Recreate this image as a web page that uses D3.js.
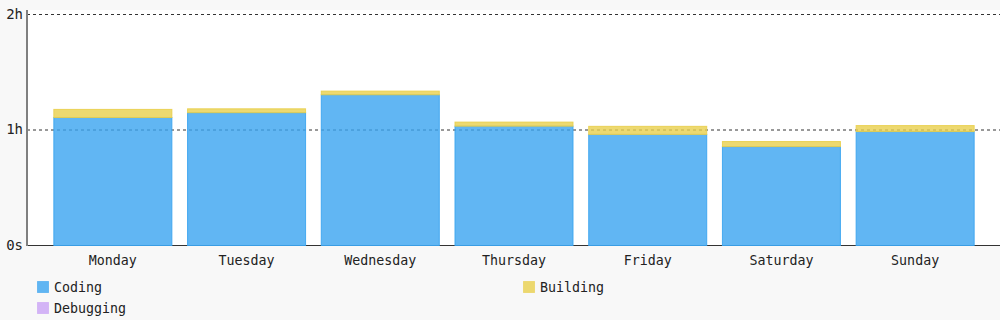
<!DOCTYPE html>
<html>
<head>
<meta charset="utf-8">
<script src="https://cdn.jsdelivr.net/npm/d3@7"></script>
<style>
  body { margin: 0; background: #f8f8f8; }
  text { font-family: "DejaVu Sans Mono", monospace; fill: #222; }
</style>
</head>
<body>
<div id="chart"></div>
<script>
// Data (minutes per day)
const days = ["Monday", "Tuesday", "Wednesday", "Thursday", "Friday", "Saturday", "Sunday"];
const coding = [66.5, 69, 78.3, 62, 57.7, 51.4, 59.2];
const building = [4.2, 2, 1.9, 2.1, 4.2, 2.6, 3.1];
const debugging = [0, 0, 0, 0, 0, 0, 0];
const yTicks = [0, 60, 120];
const yTickLabels = ["0s", "1h", "2h"];

const categories = ["Coding", "Building", "Debugging"];
const colors = { Coding: "#3aa4f0", Building: "#e9cf4c", Debugging: "#c9a2f5" };

var width = 1000, height = 320;
var margin = {top: 10, right: 0, bottom: 75, left: 27};

var svg = d3.select("#chart")
  .append("svg")
    .attr("width", width)
    .attr("height", height);

// plot background
svg.append("rect")
  .attr("x", margin.left)
  .attr("y", margin.top)
  .attr("width", width - margin.left - margin.right)
  .attr("height", height - margin.top - margin.bottom)
  .attr("fill", "#fff");

const x = d3.scaleBand()
  .domain(days)
  .range([46, 982])
  .paddingInner(0.11)
  .paddingOuter(0.055);

const y = d3.scaleLinear()
  .domain([0, 120])
  .range([245.5, 14.5]);

// build rows for the stack
const rows = days.map((d, i) => ({
  day: d, Coding: coding[i], Building: building[i], Debugging: debugging[i]
}));
const series = d3.stack().keys(categories)(rows);

// grid lines (drawn under the semi-transparent bars)
svg.append("g")
  .selectAll("line")
  .data(yTicks.slice(1))
  .join("line")
    .attr("x1", margin.left)
    .attr("x2", width)
    .attr("y1", d => y(d))
    .attr("y2", d => y(d))
    .attr("stroke", "#333")
    .attr("stroke-dasharray", "3,3");

// x axis line
svg.append("line")
  .attr("x1", margin.left)
  .attr("x2", width)
  .attr("y1", y(0))
  .attr("y2", y(0))
  .attr("stroke", "#333");

// bars
svg.append("g")
  .selectAll("g")
  .data(series)
  .join("g")
    .attr("fill", d => colors[d.key])
    .attr("stroke", d => colors[d.key])
    .attr("fill-opacity", 0.8)
    .attr("stroke-opacity", 0.9)
  .selectAll("rect")
  .data(d => d.filter(s => s[1] - s[0] > 0))
  .join("rect")
    .attr("x", d => x(d.data.day) + 0.5)
    .attr("y", d => y(d[1]))
    .attr("width", x.bandwidth() - 1)
    .attr("height", d => y(d[0]) - y(d[1]));

// y axis line
svg.append("line")
  .attr("x1", margin.left)
  .attr("x2", margin.left)
  .attr("y1", margin.top)
  .attr("y2", y(0) + 0.5)
  .attr("stroke", "#808080")
  .attr("stroke-width", 2);

// y tick labels
svg.append("g")
  .selectAll("text")
  .data(yTicks)
  .join("text")
    .attr("x", 23)
    .attr("y", d => y(d) - 0.5)
    .attr("dy", "0.35em")
    .attr("text-anchor", "end")
    .attr("font-size", 14)
    .text((d, i) => yTickLabels[i]);

// x tick labels
svg.append("g")
  .selectAll("text")
  .data(days)
  .join("text")
    .attr("x", d => x(d) + x.bandwidth() / 2)
    .attr("y", 260)
    .attr("dy", "0.35em")
    .attr("text-anchor", "middle")
    .attr("font-size", 13.3)
    .text(d => d);

// legend, two columns
const legend = svg.append("g")
  .selectAll("g")
  .data(categories)
  .join("g")
    .attr("transform", (d, i) => "translate(" + (37 + (i % 2) * 486) + "," + (281 + Math.floor(i / 2) * 21) + ")");

legend.append("rect")
  .attr("x", 0.5)
  .attr("y", 0.5)
  .attr("width", 11)
  .attr("height", 11)
  .attr("fill", d => colors[d])
  .attr("fill-opacity", 0.8)
  .attr("stroke", d => colors[d])
  .attr("stroke-opacity", 0.6);

legend.append("text")
  .attr("x", 17)
  .attr("y", 6)
  .attr("dy", "0.35em")
  .attr("font-size", 13.3)
  .text(d => d);
</script>
</body>
</html>
